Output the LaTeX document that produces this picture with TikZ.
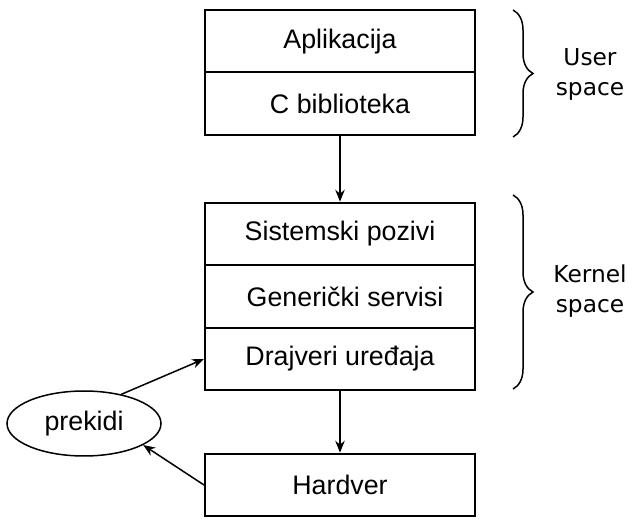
\documentclass[tikz,border=0pt]{standalone}
\usepackage{fontspec}
\setmainfont{Liberation Sans}
\newfontfamily\bracefont{DejaVu Sans}
\usetikzlibrary{shapes.geometric,decorations.pathreplacing,arrows.meta}
\begin{document}
\begin{tikzpicture}[x=1pt,y=-1pt,
  cell/.style={draw,line width=2pt,minimum width=270pt,minimum height=62.5pt,inner sep=0pt,font=\fontsize{26.8}{30}\selectfont},
  conn/.style={line width=1.5pt,-{Stealth[length=12pt,width=9.5pt]}},
  bracedeco/.style={line width=1.5pt,decorate,decoration={brace,amplitude=20pt}},
  spacelabel/.style={align=center,font=\bracefont\fontsize{23.3}{30}\selectfont}]
\useasboundingbox (0,0) rectangle (635,526);
\node[cell] (app) at (340,41.25) {Aplikacija};
\node[cell] (clib) at (340,103.75) {C biblioteka};
\node[cell] (sys) at (340,234) {Sistemski pozivi};
\node[cell] (gen) at (340,296.5) {\hspace*{10pt}Generički servisi};
\node[cell] (drv) at (340,359) {Drajveri uređaja};
\node[cell] (hw) at (340,485) {Hardver};
\node[draw,ellipse,line width=1.5pt,minimum width=154pt,minimum height=65pt,inner sep=0pt,font=\fontsize{26.8}{30}\selectfont] (irq) at (84,423.5) {prekidi};
\draw[conn] (clib.south) -- (sys.north);
\draw[conn] (drv.south) -- (hw.north);
\draw[conn] (irq.38) -- (drv.west);
\draw[conn] (hw.west) -- (irq.-20);
\coordinate (ub1) at (513,10);
\coordinate (ub2) at (513,137);
\coordinate (kb1) at (513,195);
\coordinate (kb2) at (513,389);
\draw[bracedeco] (ub1) -- (ub2);
\draw[bracedeco] (kb1) -- (kb2);
\node[spacelabel] (user) at (590,74) {User\\space};
\node[spacelabel] (kern) at (590,291) {Kernel\\space};
\end{tikzpicture}
\end{document}
